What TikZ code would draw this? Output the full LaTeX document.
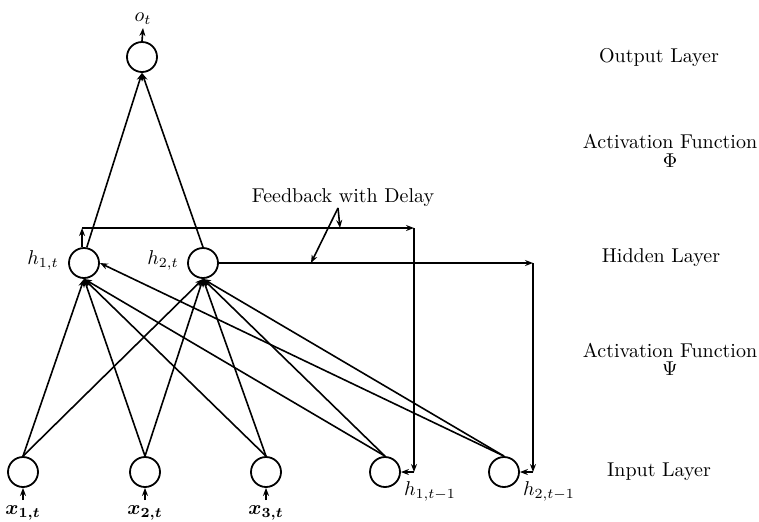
\documentclass[tikz,border=0pt]{standalone}
\usepackage{bm}
\usetikzlibrary{arrows.meta}
\begin{document}
\begin{tikzpicture}[x=0.5pt,y=-0.5pt,
  neuron/.style={circle,draw,line width=0.9pt,minimum size=15pt,inner sep=0pt},
  conn/.style={line width=0.8pt},
  arr/.style={conn,-{Stealth[length=4pt,width=3pt]}},
  lbl/.style={inner sep=0pt,font=\normalsize}]
\useasboundingbox (0,0) rectangle (759,521);
% nodes
\node[neuron] (o) at (142,57) {};
\node[neuron] (h1) at (84,263) {};
\node[neuron] (h2) at (203,263) {};
\node[neuron] (x1) at (23,472) {};
\node[neuron] (x2) at (145,472) {};
\node[neuron] (x3) at (266,472) {};
\node[neuron] (p1) at (385,472) {};
\node[neuron] (p2) at (504,472) {};
% labels
\node[lbl] (ot) at (143,19) {$o_t$};
\node[lbl] (h1l) at (43,260) {$h_{1,t}$};
\node[lbl] (h2l) at (163,260) {$h_{2,t}$};
\node[lbl] (x1l) at (23,513) {$\bm{x_{1,t}}$};
\node[lbl] (x2l) at (145,513) {$\bm{x_{2,t}}$};
\node[lbl] (x3l) at (266,513) {$\bm{x_{3,t}}$};
\node[lbl] (p1l) at (430,491) {$h_{1,t-1}$};
\node[lbl] (p2l) at (549,491) {$h_{2,t-1}$};
\node[lbl] (fb) at (343,198) {Feedback with Delay};
% layer names
\node[lbl] (L1) at (659,57) {Output Layer};
\node[lbl] (L2) at (670,141) {Activation Function};
\node[lbl] (L2s) at (670,161) {$\Phi$};
\node[lbl] (L3) at (661,258) {Hidden Layer};
\node[lbl] (L4) at (670,350) {Activation Function};
\node[lbl] (L4s) at (670,369) {$\Psi$};
\node[lbl] (L5) at (659,472) {Input Layer};
% output
\draw[arr] (o.north) -- (ot.south |- 0,28);
\draw[arr] (h1.80) -- (o.south);
\draw[arr] (h2.north) -- (o.south);
% inputs into hidden
\foreach \s in {x1,x2,x3,p1}{\draw[arr] (\s.north) -- (h1.south);}
\draw[arr] (p2.north) -- (h1.east);
\foreach \s in {x1,x2,x3,p1,p2}{\draw[arr] (\s.north) -- (h2.south);}
% input arrows
\coordinate (xa1) at (23,500);
\coordinate (xa2) at (145,500);
\coordinate (xa3) at (266,500);
\draw[arr] (xa1) -- (x1.south);
\draw[arr] (xa2) -- (x2.south);
\draw[arr] (xa3) -- (x3.south);
% feedback 1
\coordinate (f1b) at (414,228);
\draw[arr] (h1.97) -- (h1.97 |- f1b);
\draw[arr] (h1.97 |- f1b) -- (f1b);
\draw[arr] (f1b) -- (f1b |- p1);
\draw[arr] (f1b |- p1) -- (p1.east);
% feedback 2
\coordinate (f2a) at (533,263);
\draw[arr] (h2.east) -- (f2a);
\draw[arr] (f2a) -- (f2a |- p2);
\draw[arr] (f2a |- p2) -- (p2.east);
% label pointers
\coordinate (fbp) at (338,208);
\coordinate (t1) at (340,228);
\coordinate (t2) at (311,263);
\draw[arr] (fbp) -- (t1);
\draw[arr] (fbp) -- (t2);
\end{tikzpicture}
\end{document}
